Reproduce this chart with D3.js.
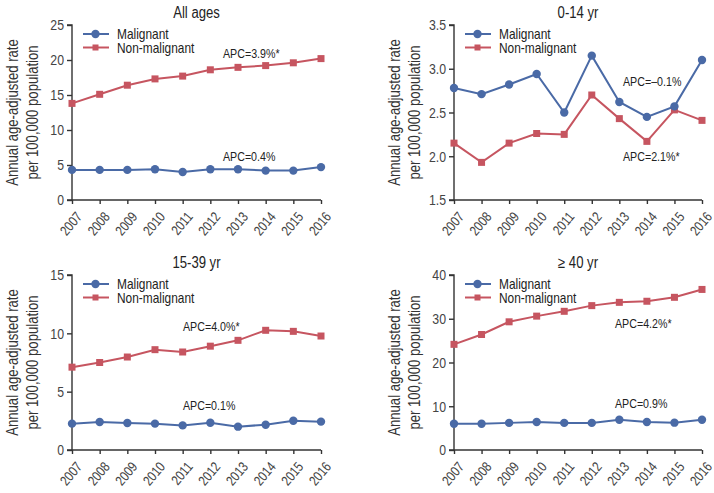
<!DOCTYPE html>
<html><head><meta charset="utf-8">
<script src="https://cdn.jsdelivr.net/npm/d3@7"></script>
<style>
body{margin:0;background:#fff;}
svg{display:block;font-family:"Liberation Sans",Arial,sans-serif;}
</style></head><body>
<svg id="c" width="714" height="493"></svg>
<script>
const years = [2007,2008,2009,2010,2011,2012,2013,2014,2015,2016];
const panelTitles = ["All ages","0-14 yr","15-39 yr","\u2265 40 yr"];
const seriesNames = ["Malignant","Non-malignant"];
const allMalignant = [4.3,4.3,4.3,4.4,4.0,4.4,4.4,4.2,4.2,4.7];
const allNonMalignant = [13.8,15.1,16.4,17.3,17.7,18.6,18.95,19.2,19.6,20.2];
const childMalignant = [2.78,2.71,2.82,2.94,2.50,3.15,2.62,2.45,2.57,3.10];
const childNonMalignant = [2.15,1.93,2.15,2.26,2.25,2.70,2.43,2.17,2.53,2.41];
const ayaMalignant = [2.26,2.40,2.31,2.26,2.11,2.34,2.00,2.17,2.51,2.43];
const ayaNonMalignant = [7.1,7.5,7.97,8.6,8.4,8.9,9.4,10.26,10.17,9.77];
const adultMalignant = [6.0,6.0,6.2,6.4,6.2,6.2,6.9,6.4,6.25,6.9];
const adultNonMalignant = [24.15,26.4,29.3,30.6,31.7,33.0,33.75,34.0,34.9,36.7];
const yDomains = [[0,25],[1.5,3.5],[0,15],[0,40]];
const yTicks = [[0,5,10,15,20,25],[1.5,2.0,2.5,3.0,3.5],[0,5,10,15],[0,10,20,30,40]];
const yTickFormats = ["d",".1f","d","d"];
const apcMalignant = ["APC=0.4%","APC=\u20130.1%","APC=0.1%","APC=0.9%"];
const apcNonMalignant = ["APC=3.9%*","APC=2.1%*","APC=4.0%*","APC=4.2%*"];

const malignantData = [allMalignant, childMalignant, ayaMalignant, adultMalignant];
const nonMalignantData = [allNonMalignant, childNonMalignant, ayaNonMalignant, adultNonMalignant];

const blue = "#4a6aa6", red = "#c65560", axisCol = "#333";
const svg = d3.select("#c");

const panels = [
  {x0:72, x1:321, y0:25, y1:200, apcM:[223,161], apcN:[223,58]},
  {x0:454, x1:702, y0:25, y1:200, apcM:[623,86], apcN:[623,161]},
  {x0:72, x1:321, y0:275, y1:450, apcM:[183,410], apcN:[183,331]},
  {x0:454, x1:702, y0:275, y1:450, apcM:[615,408], apcN:[615,328]}
];

panels.forEach((p, i) => {
  const g = svg.append("g");
  const x = d3.scalePoint().domain(years).range([p.x0, p.x1]);
  const y = d3.scaleLinear().domain(yDomains[i]).range([p.y1, p.y0]);

  const ya = g.append("g").attr("transform", `translate(${p.x0},0)`)
    .call(d3.axisLeft(y).tickValues(yTicks[i]).tickFormat(d3.format(yTickFormats[i])).tickSize(5).tickPadding(3));
  ya.select(".domain").attr("d", `M-5,${p.y0}H0V${p.y1}H-5`);
  const xa = g.append("g").attr("transform", `translate(0,${p.y1})`)
    .call(d3.axisBottom(x).tickSize(4).tickSizeOuter(0).tickPadding(2));
  xa.select(".domain").attr("d", `M${p.x0},0H${p.x1}`);
  [ya, xa].forEach(a => {
    a.selectAll("path,line").attr("stroke", axisCol).attr("stroke-width", 1.4);
    a.selectAll("text").attr("fill", "#444").attr("font-family", null);
  });
  ya.selectAll("text").attr("font-size", 15).attr("class", "cond");
  xa.selectAll("text").attr("font-size", 14).attr("class", "cond")
    .attr("text-anchor", "end").attr("dy", "0.35em")
    .attr("transform", "translate(2,10) rotate(-50)");

  g.append("text").attr("class", "cond").attr("x", (p.x0 + p.x1) / 2).attr("y", p.y0 - 7)
    .attr("text-anchor", "middle").attr("font-size", 16).attr("fill", "#222")
    .text(panelTitles[i]);

  const cy = (p.y0 + p.y1) / 2;
  ["Annual age-adjusted rate", "per 100,000 population"].forEach((t, k) => {
    g.append("text").attr("class", "cond").attr("transform", `translate(${p.x0 - 54 + k * 20},${cy}) rotate(-90)`)
      .attr("text-anchor", "middle").attr("font-size", 16).attr("fill", "#333").text(t);
  });

  const line = d3.line().x((d, j) => x(years[j])).y(d => y(d));
  g.append("path").datum(nonMalignantData[i]).attr("d", line)
    .attr("fill", "none").attr("stroke", red).attr("stroke-width", 2);
  g.selectAll(".sq").data(nonMalignantData[i]).join("rect")
    .attr("x", (d, j) => x(years[j]) - 3.5).attr("y", d => y(d) - 3.5)
    .attr("width", 7).attr("height", 7).attr("fill", red);
  g.append("path").datum(malignantData[i]).attr("d", line)
    .attr("fill", "none").attr("stroke", blue).attr("stroke-width", 2);
  g.selectAll(".ci").data(malignantData[i]).join("circle")
    .attr("cx", (d, j) => x(years[j])).attr("cy", d => y(d))
    .attr("r", 4.2).attr("fill", blue);

  const lx = p.x0 + 11, ly = p.y0 + 9;
  [[blue, "c"], [red, "s"]].forEach((s, k) => {
    const yy = ly + k * 13.5;
    g.append("line").attr("x1", lx).attr("x2", lx + 26).attr("y1", yy).attr("y2", yy)
      .attr("stroke", s[0]).attr("stroke-width", 2);
    if (s[1] === "c") g.append("circle").attr("cx", lx + 12.5).attr("cy", yy).attr("r", 4.2).attr("fill", s[0]);
    else g.append("rect").attr("x", lx + 9.5).attr("y", yy - 3).attr("width", 6).attr("height", 6).attr("fill", s[0]);
    g.append("text").attr("class", "cond").attr("x", lx + 34).attr("y", yy + 5).attr("font-size", 14.5).attr("fill", "#222")
      .text(seriesNames[k]);
  });

  g.append("text").attr("class", "cond").attr("x", p.apcM[0]).attr("y", p.apcM[1]).attr("font-size", 13).attr("fill", "#222").text(apcMalignant[i]);
  g.append("text").attr("class", "cond").attr("x", p.apcN[0]).attr("y", p.apcN[1]).attr("font-size", 13).attr("fill", "#222").text(apcNonMalignant[i]);
});

// condensed look (reference uses a narrow typeface)
svg.selectAll("text.cond").each(function () {
  const w = this.getComputedTextLength();
  this.setAttribute("textLength", (w * 0.82).toFixed(1));
  this.setAttribute("lengthAdjust", "spacingAndGlyphs");
});
</script></body></html>
